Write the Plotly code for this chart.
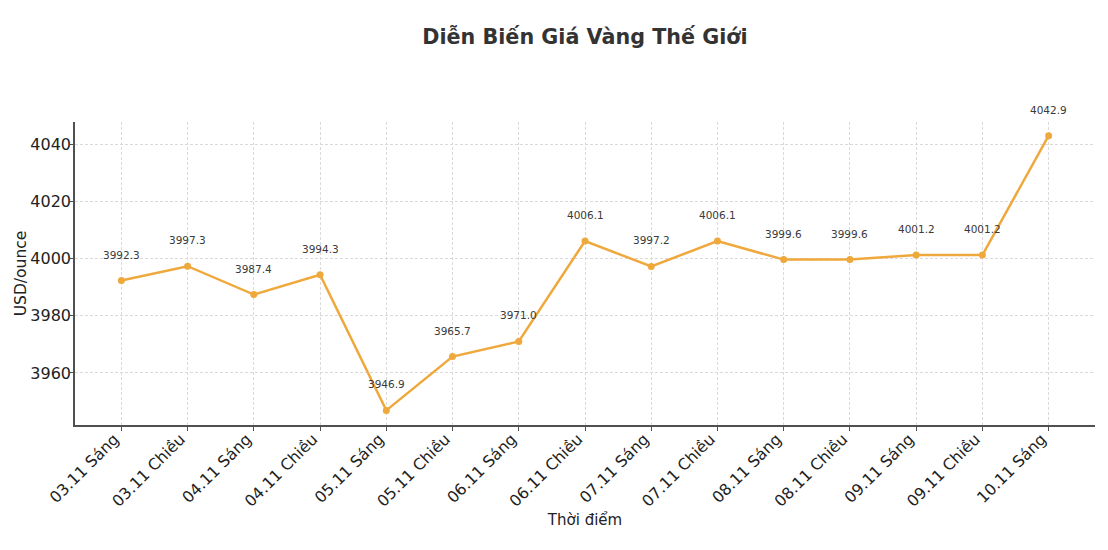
import plotly.graph_objects as go

# Dữ liệu giá vàng thế giới
thoi_diem = ["03.11 Sáng", "03.11 Chiều", "04.11 Sáng", "04.11 Chiều", "05.11 Sáng",
             "05.11 Chiều", "06.11 Sáng", "06.11 Chiều", "07.11 Sáng", "07.11 Chiều",
             "08.11 Sáng", "08.11 Chiều", "09.11 Sáng", "09.11 Chiều", "10.11 Sáng"]
gia_vang = [3992.3, 3997.3, 3987.4, 3994.3, 3946.9,
            3965.7, 3971.0, 4006.1, 3997.2, 4006.1,
            3999.6, 3999.6, 4001.2, 4001.2, 4042.9]
y_ticks = [3960, 3980, 4000, 4020, 4040]

FONT = "DejaVu Sans"
color = "#EFA83C"
x_idx = list(range(len(thoi_diem)))

fig = go.Figure()
fig.add_trace(go.Scatter(x=x_idx, y=gia_vang, mode="lines+markers",
                         line=dict(color=color, width=2.5),
                         marker=dict(color=color, size=7),
                         showlegend=False, hoverinfo="y"))

# nhãn giá trên mỗi điểm
for xi, v in zip(x_idx, gia_vang):
    fig.add_annotation(x=xi, y=v, text=f"{v:.1f}", showarrow=False,
                       yshift=26, font=dict(family=FONT, size=10.5, color="#3a3a3a"))

grid = dict(showgrid=True, gridcolor="#dadada", griddash="3px,2px", gridwidth=0.8)

fig.update_xaxes(tickvals=x_idx, ticktext=thoi_diem, tickangle=-45, automargin=False,
                 range=[-0.7, 14.7], showline=True, linecolor="#505050", linewidth=1.5,
                 ticks="outside", ticklen=4, tickcolor="#505050",
                 ticklabelshift=-7, ticklabelstandoff=-7,
                 tickfont=dict(family=FONT, size=15.8, color="#222222"),
                 title=dict(text="Thời điểm", font=dict(family=FONT, size=15, color="#222222"),
                            standoff=0),
                 zeroline=False, **grid)
fig.update_yaxes(tickvals=y_ticks, range=[3941.8, 4047.7], automargin=False,
                 showline=True, linecolor="#505050", linewidth=1.5,
                 ticks="outside", ticklen=3, tickcolor="#505050",
                 ticklabelstandoff=-4,
                 tickfont=dict(family=FONT, size=16, color="#222222"),
                 title=dict(text="USD/ounce", font=dict(family=FONT, size=15.5, color="#222222"),
                            standoff=0),
                 zeroline=False, **grid)

fig.update_layout(width=1100, height=542,
                  title=dict(text="<b>Diễn Biến Giá Vàng Thế Giới</b>", x=0.5245, xanchor="center",
                             y=0.9465, yanchor="middle",
                             font=dict(family=FONT, size=20.7, color="#333333")),
                  margin=dict(l=67, r=13, t=114, b=125),
                  plot_bgcolor="white", paper_bgcolor="white")

fig.write_html("out.html")
